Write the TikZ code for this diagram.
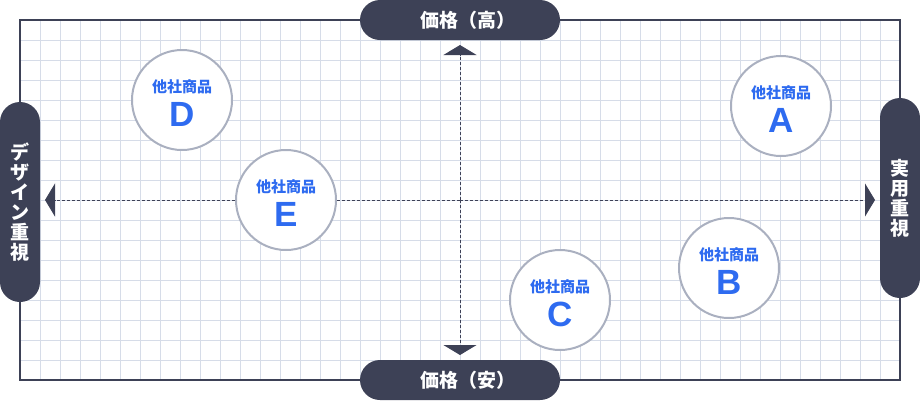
\documentclass[tikz,border=0pt]{standalone}
\usepackage{fontspec}
\newfontfamily\jpfont{Noto Sans CJK JP}
\newfontfamily\latfont{Liberation Sans}
\usetikzlibrary{arrows.meta,calc}
\definecolor{dark}{HTML}{3D4156}
\definecolor{gridc}{HTML}{D6DCE8}
\definecolor{ringc}{HTML}{AAB0C0}
\definecolor{blue}{HTML}{2E6BF0}
\tikzset{
  gridline/.style={draw=gridc, line width=1pt},
  frame/.style={draw=dark, line width=2pt},
  pill/.style={fill=dark, rounded corners=20pt, inner sep=0pt, text=white,
    font=\jpfont\bfseries\fontsize{19}{20}\selectfont},
  hpill/.style={pill, minimum width=200pt, minimum height=40pt},
  vpill/.style={pill, minimum width=40pt, minimum height=200pt, align=center},
  axis/.style={draw=dark, line width=1pt, dash pattern=on 3pt off 2pt,
    -{Triangle[width=33pt,length=10pt,fill=dark]}},
  product/.style={circle, draw=ringc, line width=2pt, fill=white, minimum size=100pt, inner sep=0pt},
  prodlabel/.style={inner sep=0pt, text=blue, font=\jpfont\bfseries\fontsize{15}{15}\selectfont},
  prodletter/.style={inner sep=0pt, text=blue, font=\latfont\bfseries\fontsize{35}{35}\selectfont},
}
\begin{document}
\begin{tikzpicture}[x=1pt,y=-1pt]
\useasboundingbox (0,0) rectangle (920,400);
% grid
\foreach \gx in {40,60,...,880} \draw[gridline] (\gx,20) -- (\gx,380);
\foreach \gy in {40,60,...,360} \draw[gridline] (20,\gy) -- (900,\gy);
\draw[frame] (20,20) rectangle (900,380);
% axes
\coordinate (center) at (460,200);
\coordinate (top) at (460,45);
\coordinate (bottom) at (460,355);
\coordinate (left) at (45,200);
\coordinate (right) at (875,200);
\draw[axis] (center) -- (top);
\draw[axis] (center) -- (bottom);
\draw[axis] (center) -- (left);
\draw[axis] (center) -- (right);
% axis labels
\node[hpill] (hi) at (460,20) {\hspace*{16pt}価格（高）};
\node[hpill] (lo) at (460,380) {\hspace*{16pt}価格（安）};
\node[vpill] (design) at (20,202) {デ\\ザ\\イ\\ン\\重\\視};
\node[vpill] (practical) at (900,198) {実\\用\\重\\視};
% products
\foreach \nm/\px/\py in {A/781/106, B/729/268, C/560/300, D/182/100, E/286/200}{
  \node[product] (c\nm) at (\px,\py) {};
  \node[prodlabel] (t\nm) at ($(c\nm.center)+(0,-13)$) {他社商品};
  \node[prodletter] (l\nm) at ($(c\nm.center)+(0,14)$) {\nm};
}
\end{tikzpicture}
\end{document}
